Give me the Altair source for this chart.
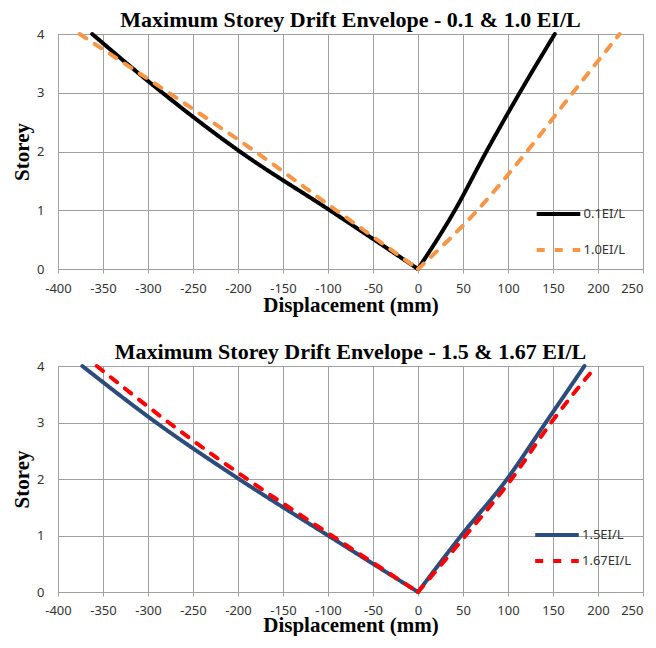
import altair as alt
import pandas as pd

# ---- data ----
storeys = [0, 1, 2, 3, 4]
x_ticks = list(range(-400, 251, 50))
y_ticks = [0, 1, 2, 3, 4]

# top panel (displacement in mm at each storey)
ei01_left = [0, -98, -198, -284, -362]
ei01_right = [0, 41, 76, 113, 152]
ei10_left = [0, -91, -181, -277, -376]
ei10_right = [0, 66, 121, 172, 224]

# bottom panel
ei15_left = [0, -100, -199, -291, -373]
ei15_right = [0, 48, 99, 142, 185]
ei167_left = [0, -96, -190, -277, -357]
ei167_right = [0, 53, 104, 148, 198]

top_series = ["0.1EI/L", "1.0EI/L"]
bottom_series = ["1.5EI/L", "1.67EI/L"]
top_colors = ["#000000", "#F79646"]
bottom_colors = ["#2C4C7C", "#FF0000"]
dashes = [[1, 0], [8, 10]]

top_title = "Maximum Storey Drift Envelope - 0.1 & 1.0 EI/L"
bottom_title = "Maximum Storey Drift Envelope - 1.5 & 1.67 EI/L"


def frame(names, lefts, rights):
    rows = []
    for name, left, right in zip(names, lefts, rights):
        for s, v in zip(storeys, left):
            rows.append({"series": name, "side": "left", "storey": s, "disp": v})
        for s, v in zip(storeys, right):
            rows.append({"series": name, "side": "right", "storey": s, "disp": v})
    return pd.DataFrame(rows)


def panel(df, names, colors, title, t_off, height, leg_x, leg_y, row_pad,
          lab_pad, tit_pad):
    leg = alt.Legend(
        title=None, orient="none", legendX=leg_x, legendY=leg_y,
        direction="vertical", symbolType="stroke", symbolStrokeWidth=4,
        symbolSize=1900, labelFont="Noto Sans", labelFontSize=13,
        labelColor="#333333", labelOffset=1, rowPadding=row_pad,
        clipHeight=16, padding=0,
    )
    return alt.Chart(df, title=alt.Title(title, offset=t_off)).mark_line(
        strokeWidth=4, strokeCap="round", interpolate="monotone"
    ).encode(
        x=alt.X("disp:Q",
                scale=alt.Scale(domain=[-400, 250], nice=False, zero=False),
                axis=alt.Axis(values=x_ticks, title="Displacement (mm)",
                              tickSize=4, labelPadding=lab_pad,
                              titlePadding=tit_pad,
                              labelFlush=False, labelExpr="'' + datum.value",
                              labelAlign={"condition": {"test": "datum.value == 250",
                                                        "value": "right"},
                                          "value": "center"},
                              domain=False)),
        y=alt.Y("storey:Q",
                scale=alt.Scale(domain=[0, 4], nice=False),
                axis=alt.Axis(values=y_ticks, title="Storey", ticks=False,
                              tickSize=0, labelPadding=14, titlePadding=4,
                              labelExpr="'' + datum.value",
                              domain=False)),
        color=alt.Color("series:N", scale=alt.Scale(domain=names, range=colors),
                        legend=leg),
        strokeDash=alt.StrokeDash("series:N",
                                  scale=alt.Scale(domain=names, range=dashes),
                                  legend=leg),
        detail="side:N",
    ).properties(width=585, height=height)


top = panel(frame(top_series, [ei01_left, ei10_left], [ei01_right, ei10_right]),
            top_series, top_colors, top_title, -6, 235, 476.5, 172, 20, 9, -1)
bottom = panel(frame(bottom_series, [ei15_left, ei167_left], [ei15_right, ei167_right]),
               bottom_series, bottom_colors, bottom_title, -6, 226, 475, 161, 10, 8, -3)

chart = alt.vconcat(top, bottom, spacing=24).properties(
    padding={"left": 3, "top": 0, "right": 0, "bottom": 0}
).resolve_scale(color="independent", strokeDash="independent").configure_view(
    stroke="#A0A0A0", strokeWidth=1
).configure_axis(
    gridColor="#A0A0A0", gridOpacity=1, gridWidth=1, tickColor="#A0A0A0",
    labelFont="Noto Sans", labelFontSize=13, labelColor="#333333",
    titleFont="Liberation Serif", titleFontSize=21, titleFontWeight="bold",
    titleColor="#000000",
).configure_title(
    font="Liberation Serif", fontSize=22, fontWeight="bold", color="#000000",
    anchor="middle",
)

chart.save("out.html", embed_options={"renderer": "svg", "actions": False})
